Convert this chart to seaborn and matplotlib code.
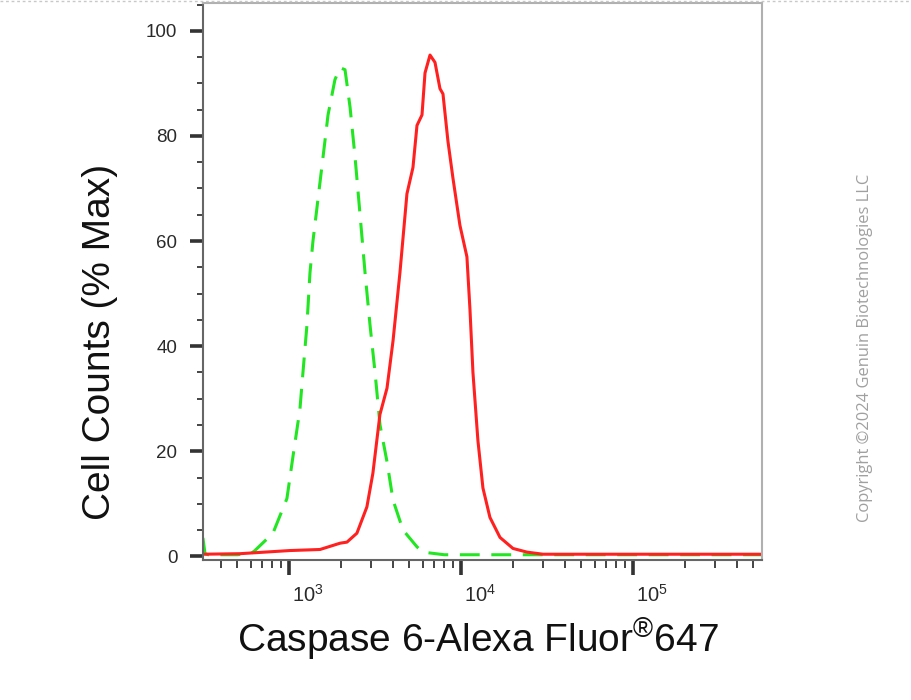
import pandas as pd
import seaborn as sns
import numpy as np
import matplotlib.pyplot as plt
import matplotlib.transforms as mtransforms
from matplotlib.ticker import LogLocator, NullFormatter, MultipleLocator
from matplotlib.lines import Line2D

# isotype control (green, dashed)
ctrl_x = [316, 325, 340, 400, 500, 600, 634, 807, 973, 1055, 1158, 1206, 1272, 1325, 1379,
          1475, 1578, 1687, 1850, 1981, 2118, 2265, 2422, 2590, 2768, 2960, 3165,
          3383, 3715, 4027, 4603, 5550, 6010, 8000, 20000, 100000, 560000]
ctrl_y = [3.5, 0.5, 0.3, 0.3, 0.3, 0.5, 1.1, 4.4, 11, 19, 28, 35, 44, 54, 60,
          68, 76, 84, 90.7, 93, 92.6, 85.5, 76, 65, 54, 44, 35,
          25, 18, 10.7, 5, 1.8, 0.8, 0.3, 0.3, 0.3, 0.3]

# Caspase 6 stained (red, solid)
stain_x = [316, 518, 1013, 1515, 1983, 2173, 2483, 2838, 3075, 3380, 3715, 4027, 4418,
           4852, 5259, 5550, 5935, 6180, 6607, 7063, 7551, 7860, 8400, 8980, 9860,
           10830, 11280, 11740, 12550, 13420, 14740, 16860, 20060, 24200, 30000,
           100000, 560000]
stain_y = [0.4, 0.5, 1.1, 1.3, 2.5, 2.7, 4.4, 9.4, 15.8, 27, 32, 41, 54,
           69, 74, 82, 84, 92, 95.4, 94, 89, 88, 79, 72, 63,
           57, 47, 35, 22, 13, 7.4, 3.6, 1.5, 0.8, 0.4,
           0.4, 0.4]

df = pd.concat([
    pd.DataFrame({'x': ctrl_x, 'y': ctrl_y, 'sample': 'control'}),
    pd.DataFrame({'x': stain_x, 'y': stain_y, 'sample': 'caspase6'}),
])

sns.set_style('white')
plt.rcParams['font.family'] = ['Liberation Sans', 'DejaVu Sans']
plt.rcParams['mathtext.fontset'] = 'custom'
plt.rcParams['mathtext.rm'] = 'Liberation Sans'
plt.rcParams['mathtext.it'] = 'Liberation Sans'

fig = plt.figure(figsize=(9.11, 7.0), dpi=100)
ax = fig.add_axes([0.2228, 0.2, 0.6136, 0.7957])

sns.lineplot(data=df, x='x', y='y', hue='sample', style='sample',
             palette={'control': '#22e622', 'caspase6': '#ff2020'},
             dashes={'control': (6.5, 3.8), 'caspase6': ''},
             sort=False, legend=False, ax=ax)
for ln in ax.get_lines():
    ln.set_linewidth(2.2)

ax.set_xscale('log')
ax.set_xlim(10**2.5, 10**5.75)
ax.set_ylim(-0.7, 105.3)

ax.xaxis.set_major_locator(LogLocator(base=10, numticks=10))
ax.xaxis.set_minor_locator(LogLocator(base=10, subs=np.arange(2, 10), numticks=20))
ax.xaxis.set_minor_formatter(NullFormatter())
ax.yaxis.set_major_locator(MultipleLocator(20))
ax.yaxis.set_minor_locator(MultipleLocator(5))

ax.tick_params(axis='both', which='both', bottom=True, left=True, top=False, right=False)
ax.tick_params(axis='both', which='major', direction='out', width=2.6,
               color='#333333', labelsize=13.5, labelcolor='#2a2a2a')
ax.tick_params(axis='both', which='minor', direction='out', length=5, width=1.4,
               color='#444444')
ax.tick_params(axis='x', which='major', length=11, pad=6, labelsize=14.5)
ax.tick_params(axis='x', which='minor', length=5.5)
ax.tick_params(axis='y', which='major', length=9.5, pad=9)
ax.tick_params(axis='y', which='minor', length=4)

# x tick labels start just right of their tick
shift = mtransforms.ScaledTranslation(3 / 100, 0, fig.dpi_scale_trans)
for lab in ax.get_xticklabels():
    lab.set_ha('left')
    lab.set_transform(lab.get_transform() + shift)

for s in ['left', 'bottom']:
    ax.spines[s].set_color('#666666')
    ax.spines[s].set_linewidth(1.5)
for s in ['top', 'right']:
    ax.spines[s].set_color('#b0b0b0')
    ax.spines[s].set_linewidth(1.5)

ax.set_xlabel('Caspase 6-Alexa Fluor$^{\u00ae}$647', fontsize=28, color='#111111')
ax.set_ylabel('Cell Counts (% Max)', fontsize=28, color='#111111')
ax.xaxis.set_label_coords(0.492, -0.1005)
ax.yaxis.set_label_coords(-0.152, 0.391)

fig.text(0.9495, 0.503, 'Copyright \u00a92024 Genuin Biotechnologies LLC', rotation=90,
         fontsize=11.9, color='#a0a0a0', ha='center', va='center', family='Open Sans')

fig.add_artist(Line2D([0, 1], [0.999, 0.999], transform=fig.transFigure,
                      color='#c8c8c8', lw=1, ls=(0, (2, 2))))

fig.savefig('out.png', dpi=100)
